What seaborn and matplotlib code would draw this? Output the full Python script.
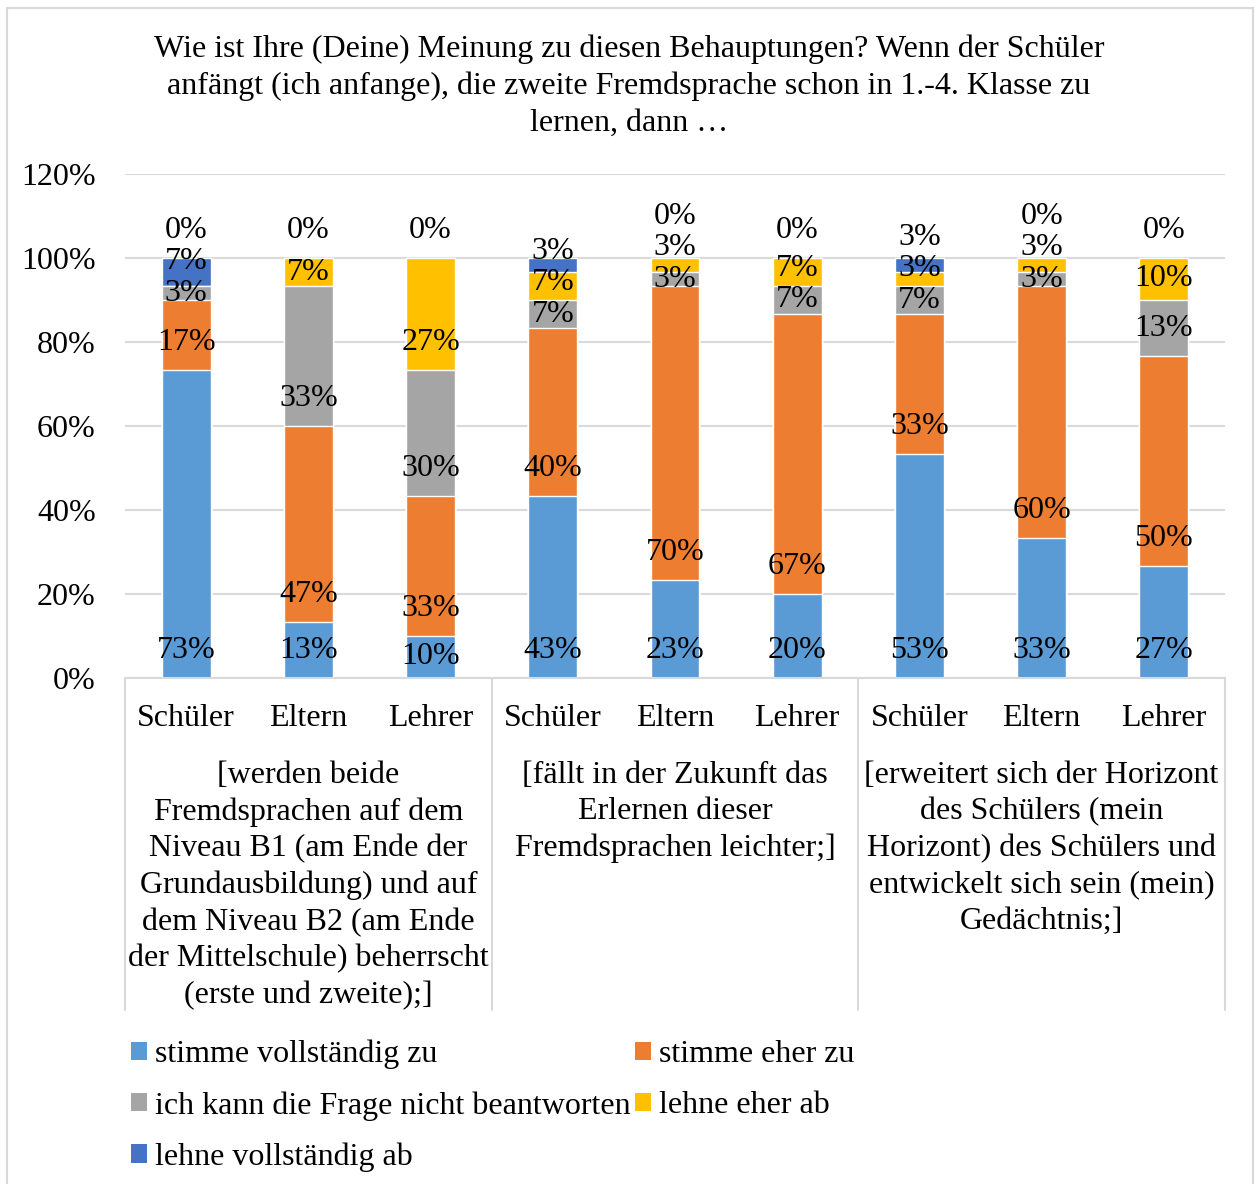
import numpy as np
import pandas as pd
import matplotlib
matplotlib.use("Agg")
import matplotlib.pyplot as plt
from matplotlib.patches import Patch, Rectangle
import seaborn as sns

# ---------------- data ----------------
title = ("Wie ist Ihre (Deine) Meinung zu diesen Behauptungen? Wenn der Schüler\n"
         "anfängt (ich anfange), die zweite Fremdsprache schon in 1.-4. Klasse zu\n"
         "lernen, dann …")
roles = ["Schüler", "Eltern", "Lehrer"]
groups = [
    "[werden beide\nFremdsprachen auf dem\nNiveau B1 (am Ende der\nGrundausbildung) und auf\n"
    "dem Niveau B2 (am Ende\nder Mittelschule) beherrscht\n(erste und zweite);]",
    "[fällt in der Zukunft das\nErlernen dieser\nFremdsprachen leichter;]",
    "[erweitert sich der Horizont\ndes Schülers (mein\nHorizont) des Schülers und\n"
    "entwickelt sich sein (mein)\nGedächtnis;]",
]
series_names = ["stimme vollständig zu", "stimme eher zu",
                "ich kann die Frage nicht beantworten", "lehne eher ab",
                "lehne vollständig ab"]
stimme_voll = [73.33, 13.33, 10.00, 43.33, 23.33, 20.00, 53.33, 33.33, 26.67]
stimme_eher = [16.67, 46.67, 33.33, 40.00, 70.00, 66.67, 33.33, 60.00, 50.00]
kann_nicht = [3.33, 33.33, 30.00, 6.67, 3.33, 6.67, 6.67, 3.33, 13.33]
lehne_eher = [0.00, 6.67, 26.67, 6.67, 3.33, 6.67, 3.33, 3.33, 10.00]
lehne_voll = [6.67, 0.00, 0.00, 3.33, 0.00, 0.00, 3.33, 0.00, 0.00]
yticks = [0, 20, 40, 60, 80, 100, 120]

colors = ["#5B9BD5", "#ED7D31", "#A5A5A5", "#FFC000", "#4472C4"]

# ---------------- build frame ----------------
series = [stimme_voll, stimme_eher, kann_nicht, lehne_eher, lehne_voll]
bar_ids = [f"{g}-{r}" for g in range(len(groups)) for r in roles]
vals = np.array(series)            # (5, 9)
cum = np.cumsum(vals, axis=0)
rows = []
for s in range(len(series)):
    for b, bid in enumerate(bar_ids):
        rows.append(dict(series=series_names[s], bar=bid, value=vals[s, b], cum=cum[s, b]))
df = pd.DataFrame(rows)

# ---------------- style ----------------
sns.set_theme(style="white")
plt.rcParams["font.family"] = ["Liberation Serif", "DejaVu Serif"]
plt.rcParams["text.color"] = "black"
plt.rcParams["xtick.color"] = "black"
plt.rcParams["ytick.color"] = "black"
plt.rcParams["legend.labelcolor"] = "black"
FS = 23
LS = 1.33

fig = plt.figure(figsize=(12.58, 11.84), dpi=100)
ax = fig.add_axes([125 / 1258, 1 - 678 / 1184, 1100 / 1258, 504 / 1184])

# stacked bars: draw cumulative totals from top series down
for s in reversed(range(len(series))):
    sub = df[df["series"] == series_names[s]]
    sns.barplot(data=sub, x="bar", y="cum", order=bar_ids, color=colors[s],
                width=0.4, saturation=1, ax=ax, zorder=2)

ax.set_ylim(0, 120)
ax.set_xlim(-0.5, len(bar_ids) - 0.5)
ax.set_yticks(yticks)
ax.set_yticklabels([f"{t}%" for t in yticks], fontsize=FS, color="black")
ax.yaxis.grid(True, color="#D9D9D9", lw=1.5, zorder=0)
ax.set_axisbelow(True)
for sp in ["top", "right", "left"]:
    ax.spines[sp].set_visible(False)
ax.spines["bottom"].set_color("#D9D9D9")
ax.spines["bottom"].set_linewidth(1.5)
ax.tick_params(axis="y", length=0, pad=21)
ax.tick_params(axis="x", length=0, pad=19)
ax.set_xticks(range(len(bar_ids)))
ax.set_xticklabels([r for g in groups for r in roles], fontsize=FS, color="black")
ax.set_xlabel("")
ax.set_ylabel("")

# data labels (positions derived from segment bases)
OFF, GAP = 6.6, 7.5
for b in range(len(bar_ids)):
    last = -1e9
    zeros = []
    base = 0.0
    for s in range(len(series)):
        h = vals[s, b]
        if h <= 0:
            zeros.append(s)
            continue
        y = base + min(OFF, h / 2)
        y = max(y, last + GAP)
        ax.text(b, y, f"{h:.0f}%", ha="center", va="center", fontsize=FS, zorder=5, color="black")
        last = y
        base += h
    for s in zeros:
        y = max(base + OFF, last + GAP)
        ax.text(b, y, f"{vals[s, b]:.0f}%", ha="center", va="center", fontsize=FS, zorder=5, color="black")
        last = y

# group separators and group labels
trans = ax.get_xaxis_transform()
sep_bottom = -(1010 - 678) / 504
for g in range(len(groups) + 1):
    x = g * len(roles) - 0.5
    ax.plot([x, x], [0, sep_bottom], transform=trans, color="#D9D9D9", lw=1.5, clip_on=False)
for g, lab in enumerate(groups):
    ax.text(g * len(roles) + 1, -0.164, lab, transform=trans, ha="center", va="top",
            fontsize=FS, linespacing=LS, color="black")

# title
fig.text(0.5, 1 - 35 / 1184, title, ha="center", va="top", fontsize=FS, linespacing=LS,
         color="black")

# legend (row-wise order as in reference)
handles = [Patch(facecolor=c, edgecolor="none") for c in colors]
order = [0, 2, 4, 1, 3]
fig.legend([handles[i] for i in order], [series_names[i] for i in order],
           ncol=2, loc="upper left", bbox_to_anchor=(115 / 1258, 1 - 1024 / 1184),
           frameon=False, fontsize=FS, handlelength=0.5, handleheight=0.5,
           handletextpad=0.25, columnspacing=0.15, labelspacing=0.68, borderpad=0)

# outer border
fig.patches.append(Rectangle((7 / 1258, -0.01), 1246 / 1258, 1 - 8 / 1184 + 0.01,
                             transform=fig.transFigure, fill=False,
                             edgecolor="#D9D9D9", lw=1.5))

fig.savefig("out.png", dpi=100)
